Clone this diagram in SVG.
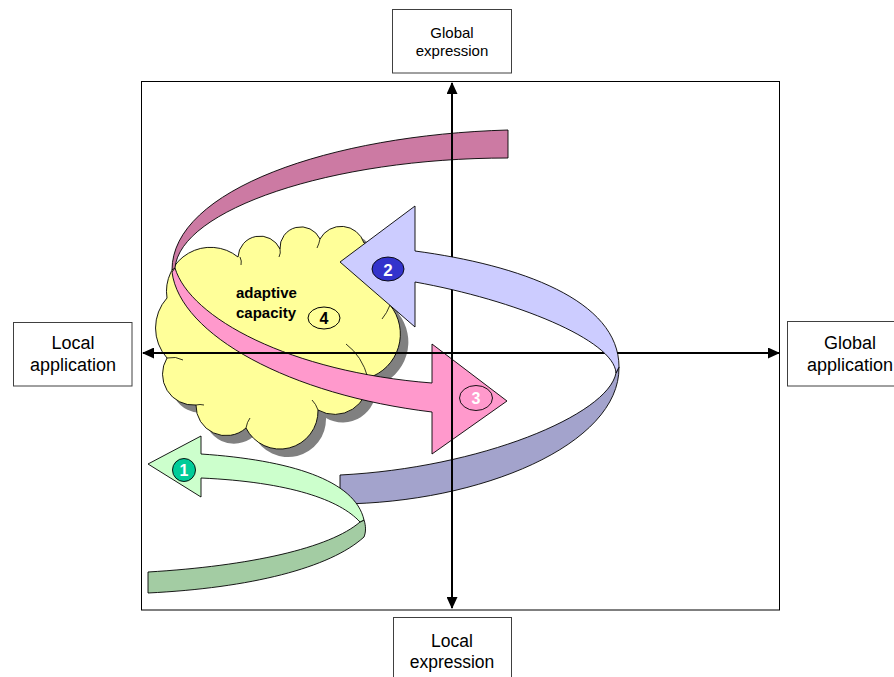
<svg xmlns="http://www.w3.org/2000/svg" xmlns:xlink="http://www.w3.org/1999/xlink" width="894" height="677" viewBox="0 0 894 677">
  <style>
    .box { fill: #ffffff; stroke: #404040; stroke-width: 1; }
    .lbl { font-family: "Liberation Sans", Arial, sans-serif; fill: #000; text-anchor: middle; }
    .edge { stroke: #000; stroke-width: 0.9; stroke-linejoin: round; }
    .axis { stroke: #000; stroke-width: 2; fill: none; }
    .num { font-family: "Liberation Sans", Arial, sans-serif; font-weight: bold; text-anchor: middle; }
    .crease { fill: none; stroke: #000; stroke-width: 0.8; }
  </style>
  <defs>
    <marker id="axisHead" markerUnits="userSpaceOnUse" markerWidth="12" markerHeight="11" refX="11" refY="5.5" orient="auto-start-reverse" viewBox="0 0 12 11">
      <path d="M0,0 L12,5.5 L0,11 Z" fill="#000"/>
    </marker>
    <path id="cloudShape" d="M167,298 A44,44 0 0 1 238,257 A22,22 0 0 1 280,249 A21,21 0 0 1 320,239 A24,24 0 0 1 364,243 A40,40 0 0 1 390,305 A46,46 0 0 1 368,378 A33.5,33.5 0 0 1 318,410 A38,38 0 0 1 246,428 A30,30 0 0 1 196,405 A31,31 0 0 1 167,358 A45,45 0 0 1 167,298 Z"/>
  </defs>

  <!-- outer frame -->
  <rect id="frame" x="141.5" y="81.5" width="638" height="528.5" fill="#fff" stroke="#000" stroke-width="1"/>

  <!-- axis end labels -->
  <g id="global-expression">
    <rect class="box" x="392.5" y="9.5" width="119" height="63.5"/>
    <text class="lbl" x="452" y="38" font-size="15">Global</text>
    <text class="lbl" x="452" y="56" font-size="15">expression</text>
  </g>
  <g id="local-expression">
    <rect class="box" x="393.5" y="617.5" width="118" height="70"/>
    <text class="lbl" x="452" y="647" font-size="17.5">Local</text>
    <text class="lbl" x="452" y="668" font-size="17.5">expression</text>
  </g>
  <g id="local-application">
    <rect class="box" x="13.5" y="322.5" width="118.5" height="63.5"/>
    <text class="lbl" x="73" y="349" font-size="18">Local</text>
    <text class="lbl" x="73" y="371" font-size="18">application</text>
  </g>
  <g id="global-application">
    <rect class="box" x="787.5" y="321.5" width="125" height="64.5"/>
    <text class="lbl" x="850" y="349" font-size="18">Global</text>
    <text class="lbl" x="850" y="371" font-size="18">application</text>
  </g>

  <!-- adaptive capacity cloud -->
  <g id="cloud">
    <use xlink:href="#cloudShape" transform="translate(8,8)" fill="#808080"/>
    <use xlink:href="#cloudShape" fill="#FFFF99" stroke="#000" stroke-width="0.9"/>
    <path class="crease" d="M240,257 q2,4 1,8 M280,249 q1,4 -1,8 M320,239 q-1,5 -3,9 M390,305 q-3,8 -8,14 M368,378 q-6,-22 -22,-34 M318,410 q-2,-6 -6,-10 M246,428 q1,-6 4,-10 M196,405 q4,-1 8,0 M167,358 q9,-2 16,2"/>
    <text x="236" y="298" font-family="Liberation Sans, Arial, sans-serif" font-weight="bold" font-size="15">adaptive</text>
    <text x="236" y="318" font-family="Liberation Sans, Arial, sans-serif" font-weight="bold" font-size="15">capacity</text>
    <ellipse cx="324" cy="318" rx="16" ry="11" fill="none" stroke="#000" stroke-width="1"/>
    <text class="num" x="324" y="324" font-size="16" fill="#000">4</text>
  </g>

  <!-- ribbon 3: mauve back band, pink front arrow -->
  <g id="ribbon-3">
    <path class="edge" fill="#CC7AA3" d="M508,130 C330,135 172,190 172,270 L175,268 C180,210 330,158 508,158 Z"/>
    <path class="edge" fill="#FF99CC" d="M175,268 C190,318 290,372 432,383 L432,344 L507,401 L432,454 L432,412 C290,395 180,335 172,272 Z"/>
  </g>

  <!-- ribbon 2: back band -->
  <g id="ribbon-2-back">
    <path class="edge" fill="#A3A3CC" d="M616,373 C608,415 480,468 340,475 L340,504 C480,503 620,445 619,367 Z"/>
  </g>

  <!-- ribbon 1: green -->
  <g id="ribbon-1">
    <path class="edge" fill="#A3CCA3" d="M148,572 C250,566 330,548 360,522 L364,520 C366,526 366,532 364,537 C330,568 250,588 148,593 Z"/>
    <path class="edge" fill="#CCFFCC" d="M148,464 L201,436 L201,454 C290,460 355,480 364,520 L360,522 C340,500 290,482 201,478 L201,497 Z"/>
  </g>

  <!-- axes -->
  <g id="connectors">
    <line class="axis" x1="452" y1="608" x2="452" y2="83" marker-start="url(#axisHead)" marker-end="url(#axisHead)"/>
    <line class="axis" x1="143" y1="353" x2="779" y2="353" marker-start="url(#axisHead)" marker-end="url(#axisHead)"/>
  </g>

  <!-- ribbon 2: front arrow -->
  <g id="ribbon-2-front">
    <path class="edge" fill="#CCCCFF" d="M340,262 L415,206 L415,251 C520,265 619,300 619,367 L616,373 C614,340 515,300 415,282 L415,327 Z"/>
  </g>

  <!-- step badges -->
  <g id="badge-1">
    <circle cx="184" cy="470" r="11.5" fill="#00CC99" stroke="#000" stroke-width="0.9"/>
    <text class="num" x="184" y="476" font-size="16" fill="#fff">1</text>
  </g>
  <g id="badge-2">
    <ellipse cx="388" cy="269" rx="16" ry="12" fill="#3333CC" stroke="#000" stroke-width="0.9"/>
    <text class="num" x="388" y="275.5" font-size="17" fill="#fff">2</text>
  </g>
  <g id="badge-3">
    <ellipse cx="476" cy="398" rx="16.5" ry="12.5" fill="none" stroke="#000" stroke-width="0.9"/>
    <text class="num" x="476" y="404" font-size="16" fill="#fff">3</text>
  </g>
</svg>
